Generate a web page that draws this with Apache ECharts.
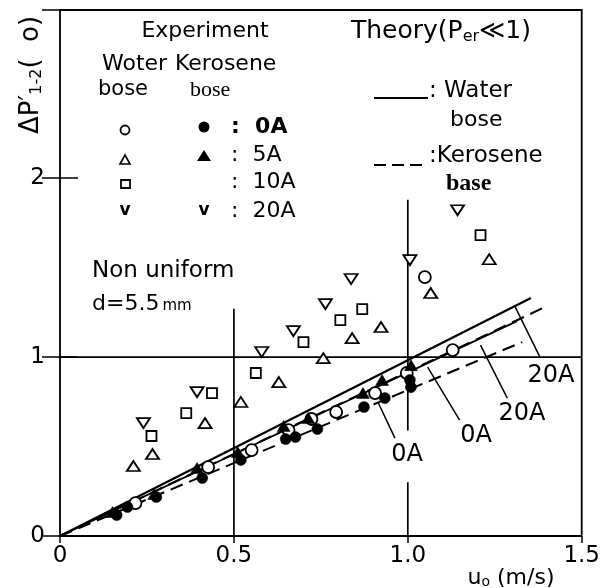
<!DOCTYPE html>
<html><head><meta charset="utf-8">
<script src="https://cdn.jsdelivr.net/npm/echarts@6/dist/echarts.min.js"></script>
<style>html,body{margin:0;padding:0;background:#fff}#c{width:603px;height:588px}</style>
</head><body><div id="c"></div>
<script>
// ---- data (u0 in m/s, ΔP'1-2) ----
const xTickLabels = ['0', '0.5', '1.0', '1.5'];
const yTickLabels = ['0', '1', '2'];

// Experiment, water base (open symbols)
const waterOA  = [[1.049,1.447],[0.217,0.184],[0.426,0.385],[0.551,0.480],[0.657,0.592],[0.723,0.654],[0.794,0.693],[0.906,0.799],[0.997,0.911],[1.129,1.039]];
const water5A  = [[1.234,1.547],[1.066,1.358],[0.923,1.168],[0.840,1.106],[0.757,0.994],[0.629,0.860],[0.520,0.749],[0.417,0.631],[0.266,0.458],[0.211,0.391]];
const water10A = [[1.209,1.682],[0.869,1.268],[0.806,1.207],[0.700,1.084],[0.563,0.911],[0.437,0.799],[0.363,0.687],[0.263,0.559]];
const water20A = [[1.143,1.821],[1.006,1.542],[0.837,1.436],[0.763,1.296],[0.671,1.145],[0.580,1.028],[0.394,0.804],[0.240,0.631]];
// Experiment, kerosene base (filled symbols)
const keroOA = [[0.163,0.117],[0.194,0.162],[0.277,0.218],[0.409,0.324],[0.520,0.425],[0.649,0.542],[0.677,0.553],[0.740,0.598],[0.874,0.721],[0.934,0.771],[1.009,0.832],[1.006,0.872]];
const kero5A = [[0.151,0.134],[0.271,0.235],[0.394,0.380],[0.511,0.469],[0.643,0.615],[0.714,0.659],[0.871,0.799],[0.926,0.872],[1.009,0.955]];

// Theory lines (Per << 1)
const theoryWater20A = [[0,0],[1.354,1.330]];
const theoryWaterOA  = [[0,0],[1.314,1.201]];
const theoryKero20A  = [[0,0],[1.400,1.285]];
const theoryKeroOA   = [[0,0],[1.329,1.084]];

// leader lines for the theory labels
const leader1 = [[1.309,1.279],[1.380,1.000]];
const leader2 = [[1.209,1.067],[1.286,0.771]];
const leader3 = [[1.057,0.944],[1.149,0.648]];
const leader4 = [[0.914,0.749],[0.963,0.547]];

// reference grid segments
const gridH1   = [[0,1],[1.5,1]];
const gridV05  = [[0.5,1.27],[0.5,0]];
const gridV10a = [[1.0,1.88],[1.0,0.59]];
const gridV10b = [[1.0,0.30],[1.0,0]];

const F = 'DejaVu Sans';
function lineSeries(data, type, w, z) {
  return {type:'line', data:data, symbol:'none', silent:true, z:z||2,
    lineStyle:{color:'#000', width:w||1.5, type:type||'solid'}};
}
function scat(data, symbol, size, filled, rot) {
  return {type:'scatter', data:data, symbol:symbol, symbolSize:size, symbolRotate:rot||0, z:5,
    itemStyle:{color: filled ? '#000' : '#fff', borderColor:'#000', borderWidth: filled ? 0.5 : 1.8, opacity:1}};
}
function txt(x, y, text, size, extra) {
  const st = Object.assign({text:text, fontFamily:F, fontSize:size, textVerticalAlign:'middle', fill:'#000'}, extra||{});
  return {type:'text', x:x, y:y, style:st};
}

const chart = echarts.init(document.getElementById('c'), null, {renderer:'canvas'});
const option = {
  backgroundColor:'#fff',
  animation:false,
  grid:{left:60, right:18, top:10, bottom:52, show:true, borderColor:'#000', borderWidth:1.8, backgroundColor:'transparent'},
  xAxis:[{type:'value', min:0, max:1.5, interval:0.5, position:'bottom',
      axisLine:{show:false}, axisTick:{show:false}, splitLine:{show:false},
      axisLabel:{color:'#000', fontFamily:F, fontSize:23, margin:9,
        formatter:function(v){const i=Math.round(v/0.5); return Math.abs(v-i*0.5)<1e-6 ? xTickLabels[i] : '';}}},
    {type:'value', min:0, max:1.5, interval:0.5, position:'top',
      axisLine:{show:false}, axisLabel:{show:false}, splitLine:{show:false},
      axisTick:{show:true, inside:true, length:7, lineStyle:{color:'#000', width:1.5}}}],
  yAxis:[{type:'value', min:0, max:2.94, interval:1, position:'left',
      axisLine:{show:false}, splitLine:{show:false},
      axisTick:{show:true, inside:true, length:18, lineStyle:{color:'#000', width:1.5}},
      axisLabel:{color:'#000', fontFamily:F, fontSize:23, margin:15,
        formatter:function(v){return Math.abs(v-Math.round(v))<1e-6 ? yTickLabels[Math.round(v)] : '';}}},
    {type:'value', min:0, max:2.94, interval:1, position:'right',
      axisLine:{show:false}, splitLine:{show:false}, axisLabel:{show:false},
      axisTick:{show:true, inside:true, length:18, lineStyle:{color:'#000', width:1.5}}}],
  series:[
    lineSeries(gridH1,'solid',1.7,1),
    lineSeries(gridV05,'solid',1.7,1),
    lineSeries(gridV10a,'solid',1.7,1),
    lineSeries(gridV10b,'solid',1.7,1),
    lineSeries(theoryWater20A,'solid',2.2),
    lineSeries(theoryWaterOA,'solid',1.8),
    lineSeries(theoryKero20A,[13,7],2),
    lineSeries(theoryKeroOA,[13,7],2),
    lineSeries(leader1,'solid',1.5),
    lineSeries(leader2,'solid',1.5),
    lineSeries(leader3,'solid',1.5),
    lineSeries(leader4,'solid',1.5),
    scat(water20A,'triangle',[13,10],false,180),
    scat(water10A,'rect',[10,10],false),
    scat(water5A,'triangle',[13,10],false),
    scat(waterOA,'circle',12,false),
    scat(keroOA,'circle',11,true),
    scat(kero5A,'triangle',[13,11],true)
  ],
  graphic:[
    // axis titles
    {type:'text', x:31, y:75, rotation:Math.PI/2, style:{
      text:'{a|ΔP}{p|′}{s|1-2}{a|(  o)}', textAlign:'center', textVerticalAlign:'middle', fill:'#000',
      rich:{a:{fontFamily:F, fontSize:26}, p:{fontFamily:F, fontSize:26}, s:{fontFamily:F, fontSize:16, padding:[11,0,0,0]}}}},
    {type:'text', x:511, y:578, style:{text:'{a|u}{s|o}{a| (m/s)}', textAlign:'center', textVerticalAlign:'middle', fill:'#000',
      rich:{a:{fontFamily:F, fontSize:22}, s:{fontFamily:F, fontSize:14, padding:[8,0,0,0]}}}},
    // annotation
    txt(92, 271, 'Non uniform', 23),
    {type:'text', x:92, y:304, style:{text:'{a|d=5.5}{b|mm}', textVerticalAlign:'middle', fill:'#000',
      rich:{a:{fontFamily:F, fontSize:22}, b:{fontFamily:F, fontSize:15, padding:[5,0,0,3]}}}},
    // theory labels
    txt(551, 376, '20A', 24, {textAlign:'center'}),
    txt(522, 414, '20A', 24, {textAlign:'center'}),
    txt(476, 436, '0A', 24, {textAlign:'center'}),
    txt(407, 455, '0A', 24, {textAlign:'center'}),
    // legend headers
    txt(205, 31, 'Experiment', 22, {textAlign:'center'}),
    {type:'text', x:351, y:31, style:{text:'{a|Theory(P}{s|er}{a|≪1)}', textVerticalAlign:'middle', fill:'#000',
      rich:{a:{fontFamily:F, fontSize:25}, s:{fontFamily:F, fontSize:16, padding:[11,0,0,0]}}}},
    txt(102, 64, 'Woter', 22),
    txt(175, 64, 'Kerosene', 22),
    txt(98, 90, 'bose', 21),
    txt(190, 90, 'bose', 22, {fontFamily:'Liberation Serif'}),
    // legend markers
    {type:'circle', shape:{cx:125, cy:130, r:4.5}, style:{fill:'#fff', stroke:'#000', lineWidth:1.8}},
    {type:'circle', shape:{cx:204, cy:127, r:5.5}, style:{fill:'#000'}},
    {type:'polygon', shape:{points:[[120,164],[130,164],[125,155]]}, style:{fill:'#fff', stroke:'#000', lineWidth:1.6}},
    {type:'polygon', shape:{points:[[197,161],[211,161],[204,150]]}, style:{fill:'#000'}},
    {type:'rect', shape:{x:121, y:180, width:9, height:8}, style:{fill:'#fff', stroke:'#000', lineWidth:1.8}},
    txt(125, 211, 'v', 17, {fontWeight:'bold', textAlign:'center'}),
    txt(204, 211, 'v', 17, {fontWeight:'bold', textAlign:'center'}),
    txt(231, 127, ':  0A', 22, {fontWeight:'bold'}),
    txt(231, 155, ':  5A', 22),
    txt(231, 182, ':  10A', 22),
    txt(231, 211, ':  20A', 22),
    // theory legend
    {type:'line', shape:{x1:374, y1:98, x2:428, y2:98}, style:{stroke:'#000', lineWidth:1.8}},
    txt(429, 91, ': Water', 23),
    txt(450, 120, 'bose', 22),
    {type:'line', shape:{x1:374, y1:165, x2:428, y2:165}, style:{stroke:'#000', lineWidth:1.8, lineDash:[12,6]}},
    txt(429, 156, ':Kerosene', 23),
    txt(446, 184, 'base', 24, {fontFamily:'Liberation Serif', fontWeight:'bold'})
  ]
};
chart.setOption(option);
</script></body></html>
